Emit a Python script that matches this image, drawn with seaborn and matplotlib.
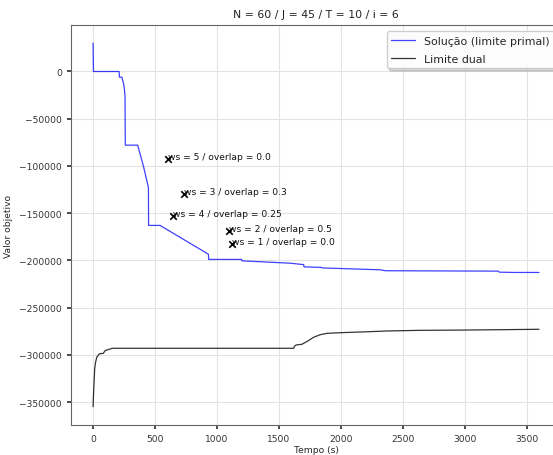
import matplotlib
matplotlib.use("Agg")
import matplotlib.pyplot as plt
import seaborn as sns
import pandas as pd

# Primal bound (best solution found) over time
primal_t = [0, 3, 210, 213, 232, 245, 253, 258, 260, 360, 406, 447, 448, 541,
            931, 933, 1200, 1203, 1590, 1700, 1703, 1845, 1848, 2320, 2360,
            3270, 3280, 3400, 3600]
primal_v = [30000, 0, 0, -6000, -6000, -12000, -19000, -26000, -78000, -78000,
            -100000, -123000, -163000, -163000, -193500, -199000, -199000,
            -200500, -203000, -204500, -206900, -207500, -208000, -210000,
            -211000, -211400, -212500, -212800, -212800]

# Dual bound over time
dual_t = [0, 4, 8, 13, 20, 30, 51, 83, 97, 137, 160, 1620, 1625, 1640, 1685,
          1725, 1780, 1834, 1888, 1995, 2237, 2372, 2641, 3000, 3300, 3600]
dual_v = [-355000, -340000, -329000, -315000, -308000, -302500, -299000,
          -298400, -295600, -293800, -293100, -293100, -291000, -289600,
          -288900, -286100, -281500, -278700, -277300, -276600, -275500,
          -274800, -274100, -273800, -273400, -273000]

# Heuristic runs (window size / overlap)
ws_labels = ["ws = 5 / overlap = 0.0", "ws = 3 / overlap = 0.3",
             "ws = 4 / overlap = 0.25", "ws = 2 / overlap = 0.5",
             "ws = 1 / overlap = 0.0"]
ws_t = [608, 730, 649, 1101, 1125]
ws_v = [-93000, -129300, -153000, -168800, -182900]

sns.set_theme(style="ticks", rc={
    "axes.grid": True,
    "grid.color": "#e3e3e3",
    "grid.linewidth": 0.8,
    "axes.edgecolor": "#666666",
    "axes.linewidth": 0.8,
    "xtick.color": "#333333",
    "ytick.color": "#333333",
    "xtick.major.size": 3,
    "ytick.major.size": 3,
})
plt.rcParams["font.family"] = ["DejaVu Sans"]

fig = plt.figure(figsize=(5.53, 4.56), dpi=100)
ax = fig.add_axes([0.128, 0.066, 0.887, 0.877])

primal = pd.DataFrame({"t": primal_t, "v": primal_v})
dual = pd.DataFrame({"t": dual_t, "v": dual_v})
runs = pd.DataFrame({"t": ws_t, "v": ws_v, "label": ws_labels})

sns.lineplot(data=primal, x="t", y="v", estimator=None, sort=False, ax=ax,
             color="blue", alpha=0.75, linewidth=0.9,
             label="Solução (limite primal)")
sns.lineplot(data=dual, x="t", y="v", estimator=None, sort=False, ax=ax,
             color="black", alpha=0.8, linewidth=0.9, label="Limite dual")
sns.scatterplot(data=runs, x="t", y="v", ax=ax, marker="x", color="black",
                s=22, linewidth=1.2, legend=False, zorder=3)
for _, r in runs.iterrows():
    ax.text(r["t"], r["v"], r["label"], fontsize=6.6, color="#111111")

ax.set_title("N = 60 / J = 45 / T = 10 / i = 6", fontsize=7.8, color="#222222")
ax.set_xlabel("Tempo (s)", fontsize=6.6, labelpad=1.5)
ax.set_ylabel("Valor objetivo", fontsize=6.6)
ax.tick_params(labelsize=6.6)
ax.set_xticks([0, 500, 1000, 1500, 2000, 2500, 3000, 3500])
leg = ax.legend(loc="upper right", bbox_to_anchor=(0.996, 0.998),
                fontsize=7.9, shadow={"color": "0.55", "alpha": 0.35},
                frameon=True, framealpha=0.95, edgecolor="#cccccc",
                fancybox=True, labelspacing=0.75, handlelength=2.2)

fig.savefig("out.png", dpi=100)
